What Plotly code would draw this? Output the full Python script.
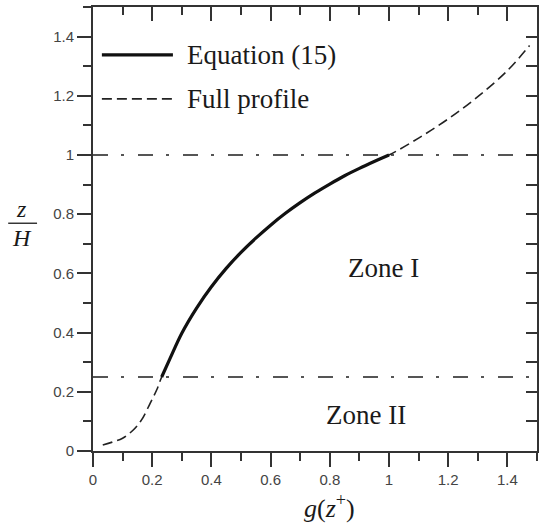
import plotly.graph_objects as go

# ---- data -------------------------------------------------------------
# Full velocity-defect profile, lower part (Zone II)
g_lower = [0.033, 0.065, 0.100, 0.136, 0.164, 0.193, 0.215]
z_lower = [0.020, 0.030, 0.043, 0.071, 0.105, 0.161, 0.206]

# Equation (15), valid in Zone I
g_eq15 = [0.232, 0.26, 0.30, 0.35, 0.40, 0.45, 0.50, 0.55, 0.60, 0.65,
          0.70, 0.75, 0.80, 0.85, 0.90, 0.95, 1.00]
z_eq15 = [0.250, 0.312, 0.398, 0.483, 0.555, 0.617, 0.671, 0.719, 0.763, 0.803,
          0.839, 0.872, 0.902, 0.930, 0.955, 0.978, 1.000]

# Full profile, above the free surface scale
g_upper = [1.10, 1.20, 1.30, 1.40, 1.475]
z_upper = [1.057, 1.122, 1.197, 1.285, 1.370]

zone_bounds = [0.25, 1.0]
x_range = [0, 1.5]
y_range = [0, 1.5]

zone_labels = ["Zone I", "Zone II"]
zone_label_pos = [(0.983, 0.618), (0.922, 0.122)]

legend_labels = ["Equation (15)", "Full profile"]

# ---- styling ----------------------------------------------------------
SERIF = "Liberation Serif"
SANS = "Liberation Sans"
AXIS_COL = "#333333"
INK = "#111111"
TEXT_COL = "#1a1a1a"

g_full = g_lower + g_eq15 + g_upper
z_full = z_lower + z_eq15 + z_upper

fig = go.Figure()

# zone boundaries (dash-dot)
for zb in zone_bounds:
    fig.add_trace(go.Scatter(
        x=x_range, y=[zb, zb], mode="lines",
        line=dict(color="#555555", width=2.2, dash="15px,13px,3px,14px"),
        hoverinfo="skip", showlegend=False))

# full profile (dashed)
fig.add_trace(go.Scatter(
    x=g_full, y=z_full, mode="lines", line_shape="spline",
    line=dict(color="#222222", width=1.6, dash="10px,5px"),
    showlegend=False))

# Equation (15) (solid)
fig.add_trace(go.Scatter(
    x=g_eq15, y=z_eq15, mode="lines", line_shape="spline",
    line=dict(color=INK, width=3.2),
    showlegend=False))

# helper trace to carry the mirrored (top / right) tick axes
fig.add_trace(go.Scatter(x=[None], y=[None], xaxis="x2", yaxis="y2",
                         showlegend=False, hoverinfo="skip"))

tick_font = dict(family=SANS, size=15, color="#444444")

fig.update_layout(
    width=540, height=525, autosize=False,
    margin=dict(l=93, r=3, t=7, b=74),
    paper_bgcolor="white", plot_bgcolor="white",
    xaxis=dict(
        range=x_range, tick0=0, dtick=0.2, ticks="outside", ticklen=14,
        tickwidth=1.6, tickcolor=AXIS_COL, showline=True, linecolor=AXIS_COL,
        linewidth=1.8, showgrid=False, zeroline=False, tickfont=tick_font,
        minor=dict(ticks="outside", ticklen=8, dtick=0.1, tickwidth=1.6,
                   tickcolor=AXIS_COL, showgrid=False),
    ),
    yaxis=dict(
        range=y_range, tick0=0, dtick=0.2, ticks="outside", ticklen=14,
        tickwidth=1.6, tickcolor=AXIS_COL, showline=True, linecolor=AXIS_COL,
        linewidth=1.8, showgrid=False, zeroline=False, tickfont=tick_font,
        minor=dict(ticks="outside", ticklen=8, dtick=0.1, tickwidth=1.6,
                   tickcolor=AXIS_COL, showgrid=False),
    ),
    xaxis2=dict(
        range=x_range, overlaying="x", side="top", anchor="y",
        tick0=0, dtick=0.2, ticks="inside", ticklen=14, tickwidth=1.6,
        tickcolor=AXIS_COL, showline=True, linecolor=AXIS_COL, linewidth=1.8,
        showticklabels=False, showgrid=False, zeroline=False,
        minor=dict(ticks="inside", ticklen=8, dtick=0.1, tickwidth=1.6,
                   tickcolor=AXIS_COL, showgrid=False),
    ),
    yaxis2=dict(
        range=y_range, overlaying="y", side="right", anchor="x",
        tick0=0, dtick=0.1, ticks="inside", ticklen=11, tickwidth=1.6,
        tickcolor=AXIS_COL, showline=True, linecolor=AXIS_COL, linewidth=1.8,
        showticklabels=False, showgrid=False, zeroline=False,
    ),
)

# zone labels
for text, (gx, zy) in zip(zone_labels, zone_label_pos):
    fig.add_annotation(x=gx, y=zy, xref="x", yref="y", text=text,
                       showarrow=False, xanchor="center", yanchor="middle",
                       font=dict(family=SERIF, size=27, color=TEXT_COL))

# legend: line keys and labels
fig.add_shape(type="line", xref="paper", yref="paper",
              x0=0.020, x1=0.180, y0=0.892, y1=0.892,
              line=dict(color=INK, width=3.2))
fig.add_shape(type="line", xref="paper", yref="paper",
              x0=0.020, x1=0.178, y0=0.793, y1=0.793,
              line=dict(color="#222222", width=1.6, dash="10px,5px"))
for text, yp in zip(legend_labels, [0.892, 0.793]):
    fig.add_annotation(x=0.208, y=yp, xref="paper", yref="paper", text=text,
                       showarrow=False, xanchor="left", yanchor="middle",
                       font=dict(family=SERIF, size=27, color=TEXT_COL))

# x-axis title  g(z+)
fig.add_annotation(x=0.532, y=-0.124, xref="paper", yref="paper",
                   text="<i>g</i>(<i>z</i><sup>+</sup>)", showarrow=False,
                   xanchor="center", yanchor="middle",
                   font=dict(family=SERIF, size=26, color=TEXT_COL))

# y-axis title  z / H as a stacked fraction
fig.add_annotation(x=-0.160, y=0.545, xref="paper", yref="paper",
                   text="<i>z</i>", showarrow=False,
                   xanchor="center", yanchor="middle",
                   font=dict(family=SERIF, size=24, color=TEXT_COL))
fig.add_annotation(x=-0.160, y=0.479, xref="paper", yref="paper",
                   text="<i>H</i>", showarrow=False,
                   xanchor="center", yanchor="middle",
                   font=dict(family=SERIF, size=24, color=TEXT_COL))
fig.add_shape(type="line", xref="paper", yref="paper",
              x0=-0.191, x1=-0.126, y0=0.513, y1=0.513,
              line=dict(color=TEXT_COL, width=1.3))

fig.write_html("out.html")
